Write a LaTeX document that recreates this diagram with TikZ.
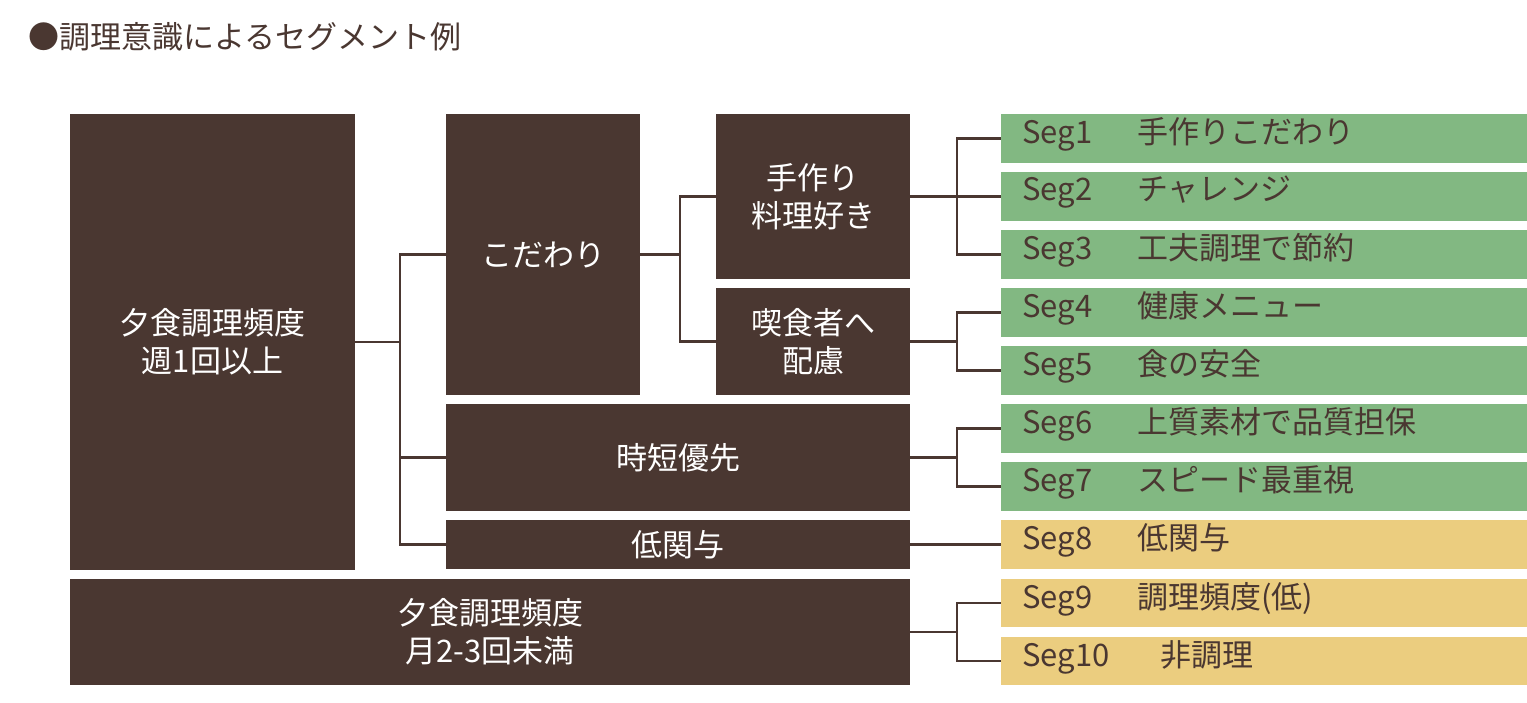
\documentclass[tikz,border=0pt]{standalone}
\usepackage{fontspec}
\setmainfont{Noto Sans CJK JP}
\begin{document}
\begin{tikzpicture}[x=1pt,y=-1pt,
  br/.style={fill=brn,draw=none,text=white,align=center,font=\fontsize{31}{38}\selectfont,inner sep=0},
  sg/.style={draw=none,inner sep=0},
  st/.style={anchor=west,font=\fontsize{31}{36}\selectfont,text=brn,inner sep=0},
  ln/.style={draw=brn,line width=2.5pt}]
\definecolor{brn}{HTML}{4A3731}
\definecolor{grn}{HTML}{82B882}
\definecolor{yel}{HTML}{EBCD7F}
\useasboundingbox (0,0) rectangle (1527,702);
\node[anchor=west,text=brn,font=\fontsize{31}{34}\selectfont,inner sep=0] (title) at (28,37) {●調理意識によるセグメント例};
\node[br,minimum width=285,minimum height=456] (big) at (212.5,342) {夕食調理頻度\\週1回以上};
\node[br,minimum width=194,minimum height=281] (kod) at (543,254.5) {こだわり};
\node[br,minimum width=194,minimum height=165] (tez) at (813,196.5) {手作り\\料理好き};
\node[br,minimum width=194,minimum height=107] (kis) at (813,341.5) {喫食者へ\\配慮};
\node[br,minimum width=464,minimum height=107] (jit) at (678,457.5) {時短優先};
\node[br,minimum width=464,minimum height=49] (tei) at (678,544.5) {低関与};
\node[br,minimum width=840,minimum height=106] (tsuki) at (490,632) {夕食調理頻度\\月2-3回未満};
\foreach \n/\ya/\yb/\c/\lab/\w in {1/114/163/grn/手作りこだわり/115,2/172/221/grn/チャレンジ/115,3/230/279/grn/工夫調理で節約/115,4/288/337/grn/健康メニュー/115,5/346/395/grn/食の安全/115,6/404/453/grn/上質素材で品質担保/115,7/462/511/grn/スピード最重視/115,8/520/569/yel/低関与/115,9/579/627/yel/調理頻度(低)/115,10/637/685/yel/非調理/138}{
  \pgfmathsetmacro{\ym}{(\ya+\yb)/2}
  \pgfmathsetmacro{\yh}{\yb-\ya}
  \pgfmathsetmacro{\yt}{\ym-4}
  \node[sg,fill=\c,minimum width=526,minimum height=\yh] (s\n) at (1264,\ym) {};
  \node[st] (t\n) at (1022,\yt) {\makebox[\w pt][l]{Seg\n}\lab};
}
\coordinate (j1) at (400,342);
\draw[ln] (big.east) -- (j1);
\draw[ln] (j1) |- (kod.west); \draw[ln] (j1) |- (jit.west); \draw[ln] (j1) |- (tei.west);
\coordinate (j2) at (680,254.5);
\draw[ln] (kod.east) -- (j2); \draw[ln] (j2) |- (tez.west); \draw[ln] (j2) |- (kis.west);
\coordinate (j3) at (957,196.5);
\draw[ln] (tez.east) -- (j3); \foreach \s in {s1,s2,s3} \draw[ln] (j3) |- (\s.west);
\coordinate (j4) at (957,341.5);
\draw[ln] (kis.east) -- (j4); \foreach \s in {s4,s5} \draw[ln] (j4) |- (\s.west);
\coordinate (j5) at (957,457.5);
\draw[ln] (jit.east) -- (j5); \foreach \s in {s6,s7} \draw[ln] (j5) |- (\s.west);
\draw[ln] (tei.east) -- (s8.west);
\coordinate (j6) at (957,632);
\draw[ln] (tsuki.east) -- (j6); \foreach \s in {s9,s10} \draw[ln] (j6) |- (\s.west);
\end{tikzpicture}
\end{document}
